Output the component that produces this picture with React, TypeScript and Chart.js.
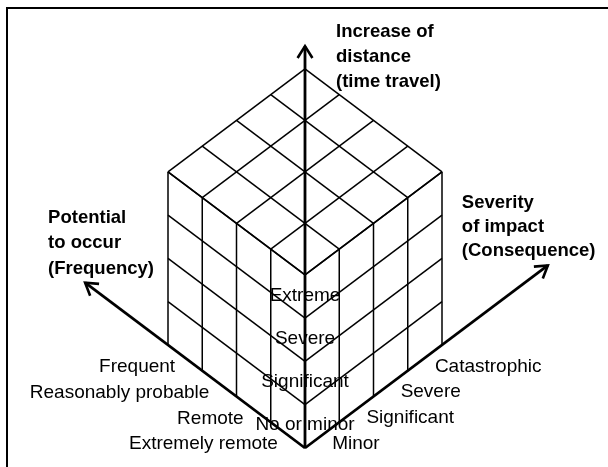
import React, { useEffect, useRef } from "react";
import { Chart, registerables } from "chart.js";

Chart.register(...registerables);

// ---- data (levels counted outward from the common origin) ----
const distanceLevels = ["No or minor", "Significant", "Severe", "Extreme"];
const frequencyLevels = ["Extremely remote", "Remote", "Reasonably probable", "Frequent"];
const severityLevels = ["Minor", "Significant", "Severe", "Catastrophic"];
const distanceTitle = ["Increase of", "distance", "(time travel)"];
const severityTitle = ["Severity", "of impact", "(Consequence)"];
const frequencyTitle = ["Potential", "to occur", "(Frequency)"];
// axis lengths in cube cells: frequency, severity, distance
const axisLengths = [6.42, 7.09, 9.28];

// ---- layout / style ----
const W = 608;
const H = 467;
const ORIGIN_X = 305;
const ORIGIN_Y = 448;
const CELL_W = 34.25;
const CELL_RISE = 25.75;
const LEVEL_H = 43.3;
const LR = LEVEL_H / CELL_RISE;
const FONT = "'Liberation Sans', Arial, sans-serif";

// isometric projection: i = frequency, j = severity, k = distance
const P = (i: number, j: number, k: number) => ({ x: j - i, y: k * LR + i + j });

function buildSegments() {
  const n = distanceLevels.length;
  const grid: { x: number; y: number }[][] = [];
  for (let t = 0; t <= n; t++) {
    // top face
    grid.push([P(t, 0, n), P(t, n, n)]);
    grid.push([P(0, t, n), P(n, t, n)]);
    // left face (frequency side)
    grid.push([P(t, 0, 0), P(t, 0, n)]);
    grid.push([P(0, 0, t), P(n, 0, t)]);
    // right face (severity side)
    grid.push([P(0, t, 0), P(0, t, n)]);
    grid.push([P(0, 0, t), P(0, n, t)]);
  }
  const axes = [
    [P(0, 0, 0), P(axisLengths[0], 0, 0)],
    [P(0, 0, 0), P(0, axisLengths[1], 0)],
    [P(0, 0, 0), P(0, 0, axisLengths[2])],
  ];
  return { grid, axes };
}

const diagramPlugin = {
  id: "diagram",
  beforeDatasetsDraw(chart: any) {
    const ctx = chart.ctx;
    ctx.save();
    ctx.strokeStyle = "#000";
    ctx.lineWidth = 2;
    ctx.beginPath();
    ctx.moveTo(7, H + 5);
    ctx.lineTo(7, 8);
    ctx.lineTo(W + 5, 8);
    ctx.stroke();
    ctx.restore();
  },
  afterDatasetsDraw(chart: any) {
    const ctx = chart.ctx;
    const sx = chart.scales.x;
    const sy = chart.scales.y;
    const px = (p: { x: number; y: number }) => ({ X: sx.getPixelForValue(p.x), Y: sy.getPixelForValue(p.y) });
    const o = px(P(0, 0, 0));
    const tips = [
      px(P(axisLengths[0], 0, 0)),
      px(P(0, axisLengths[1], 0)),
      px(P(0, 0, axisLengths[2])),
    ];
    ctx.save();
    // arrowheads
    ctx.strokeStyle = "#000";
    ctx.lineWidth = 2.6;
    ctx.lineJoin = "miter";
    ctx.lineCap = "butt";
    tips.forEach((t) => {
      const a = Math.atan2(t.Y - o.Y, t.X - o.X);
      const len = 14;
      const spread = (32 * Math.PI) / 180;
      ctx.beginPath();
      ctx.moveTo(t.X - len * Math.cos(a - spread), t.Y - len * Math.sin(a - spread));
      ctx.lineTo(t.X, t.Y);
      ctx.lineTo(t.X - len * Math.cos(a + spread), t.Y - len * Math.sin(a + spread));
      ctx.stroke();
    });

    ctx.fillStyle = "#000";
    ctx.textBaseline = "middle";
    ctx.font = `19px ${FONT}`;
    // distance levels along vertical edge
    ctx.textAlign = "center";
    distanceLevels.forEach((lab, k) => {
      const p = px(P(0, 0, k + 0.55));
      ctx.fillText(lab, p.X, p.Y + 1);
    });
    // frequency levels
    ctx.textAlign = "right";
    frequencyLevels.forEach((lab, i) => {
      const p = px(P(i + 0.5, 0, 0));
      ctx.fillText(lab, p.X - 10, p.Y + 9);
    });
    // severity levels
    ctx.textAlign = "left";
    severityLevels.forEach((lab, j) => {
      const p = px(P(0, j + 0.5, 0));
      ctx.fillText(lab, p.X + 10, p.Y + 8.5);
    });

    // axis titles
    ctx.font = `bold 18.5px ${FONT}`;
    ctx.textAlign = "left";
    distanceTitle.forEach((l, n) => ctx.fillText(l, tips[2].X + 31, tips[2].Y - 14 + n * 25));
    severityTitle.forEach((l, n) => ctx.fillText(l, tips[1].X - 86, tips[1].Y - 63 + n * 24));
    frequencyTitle.forEach((l, n) => ctx.fillText(l, tips[0].X - 37, tips[0].Y - 65 + n * 25.5));
    ctx.restore();
  },
};

export default function App() {
  const ref = useRef<HTMLCanvasElement>(null);
  useEffect(() => {
    if (!ref.current) return;
    const { grid, axes } = buildSegments();
    const datasets: any[] = [
      ...grid.map((seg) => ({
        data: seg,
        showLine: true,
        borderColor: "#000",
        borderWidth: 1.5,
        pointRadius: 0,
      })),
      ...axes.map((seg) => ({
        data: seg,
        showLine: true,
        borderColor: "#000",
        borderWidth: 2.8,
        pointRadius: 0,
      })),
    ];
    const chart = new Chart(ref.current, {
      type: "scatter",
      data: { datasets },
      options: {
        animation: false,
        responsive: false,
        devicePixelRatio: 1,
        events: [],
        layout: { padding: 0 },
        plugins: { legend: { display: false }, tooltip: { enabled: false } },
        scales: {
          x: { type: "linear", display: false, min: -ORIGIN_X / CELL_W, max: (W - ORIGIN_X) / CELL_W },
          y: { type: "linear", display: false, min: -(H - ORIGIN_Y) / CELL_RISE, max: ORIGIN_Y / CELL_RISE },
        },
      },
      plugins: [diagramPlugin],
    });
    return () => chart.destroy();
  }, []);
  return (
    <div style={{ position: "absolute", left: 0, top: 0, width: W, height: H, background: "#fff" }}>
      <canvas ref={ref} width={W} height={H} style={{ display: "block" }} />
    </div>
  );
}
